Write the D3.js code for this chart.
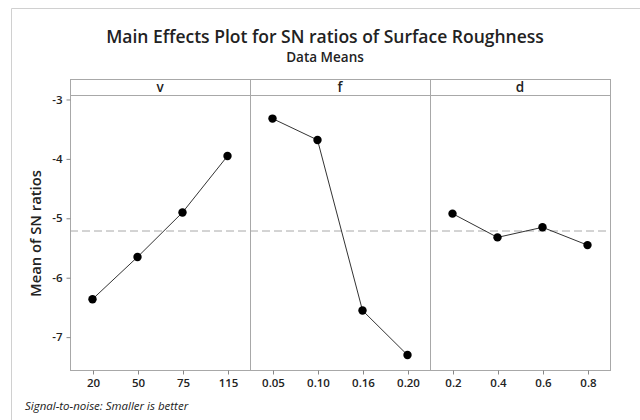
<!DOCTYPE html>
<html>
<head>
<meta charset="utf-8">
<script src="https://cdn.jsdelivr.net/npm/d3@7"></script>
<style>
  body { margin: 0; background: #fff; }
  svg text { font-family: "Open Sans", "Noto Sans", sans-serif; fill: #222; }
</style>
</head>
<body>
<div class="chart"></div>
<script>
// Data
const factors = ["v", "f", "d"];
const vLevels = ["20", "50", "75", "115"];
const vMeans = [-6.37, -5.66, -4.91, -3.96];
const fLevels = ["0.05", "0.10", "0.16", "0.20"];
const fMeans = [-3.33, -3.69, -6.56, -7.31];
const dLevels = ["0.2", "0.4", "0.6", "0.8"];
const dMeans = [-4.93, -5.33, -5.16, -5.46];
const yTicks = [-3, -4, -5, -6, -7];

const panels = [
    { name: factors[0], levels: vLevels, means: vMeans },
    { name: factors[1], levels: fLevels, means: fMeans },
    { name: factors[2], levels: dLevels, means: dMeans }
];

const width = 640;
const height = 420;
const plotLeft = 70, plotRight = 610;
const stripTop = 79, plotTop = 95, plotBottom = 370;

const svg = d3.select(".chart").append("svg")
    .attr("width", width)
    .attr("height", height);

// outer frame lines (top and left)
svg.append("line").attr("x1", 11.5).attr("x2", width).attr("y1", 8.5).attr("y2", 8.5)
    .attr("stroke", "#d0d0d0");
svg.append("line").attr("x1", 11.5).attr("x2", 11.5).attr("y1", 8.5).attr("y2", height)
    .attr("stroke", "#d0d0d0");

// titles
svg.append("text")
    .attr("x", 325).attr("y", 43)
    .attr("text-anchor", "middle")
    .attr("font-size", 17.5).attr("font-weight", 600)
    .text("Main Effects Plot for SN ratios of Surface Roughness");
svg.append("text")
    .attr("x", 325).attr("y", 62)
    .attr("text-anchor", "middle")
    .attr("font-size", 13.5).attr("font-weight", 600)
    .text("Data Means");

// scales
const yScale = d3.scaleLinear()
    .domain([-7.562, -2.933])
    .range([plotBottom, plotTop]);

const panelScale = d3.scaleBand()
    .domain(factors)
    .range([plotLeft, plotRight])
    .padding(0);

const grandMean = d3.mean(panels.map(p => d3.mean(p.means)));

// panels
panels.forEach(p => {
    const x0 = panelScale(p.name);
    const w = panelScale.bandwidth();
    const g = svg.append("g").attr("transform", `translate(${x0}, 0)`);

    const xScale = d3.scalePoint()
        .domain(p.levels)
        .range([0, w])
        .padding(0.5);

    // strip header
    g.append("rect")
        .attr("x", 0.5).attr("y", stripTop + 0.5)
        .attr("width", w).attr("height", plotTop - stripTop)
        .attr("fill", "#fff").attr("stroke", "#a8a8a8");
    g.append("text")
        .attr("x", w / 2).attr("y", plotTop - 3.5)
        .attr("text-anchor", "middle")
        .attr("font-size", 13.5).attr("font-weight", 600)
        .text(p.name);

    // panel border
    g.append("rect")
        .attr("x", 0.5).attr("y", plotTop + 0.5)
        .attr("width", w).attr("height", plotBottom - plotTop)
        .attr("fill", "none").attr("stroke", "#a8a8a8");

    // x axis
    const xAxis = d3.axisBottom(xScale).tickSize(4).tickPadding(4);
    const ax = g.append("g")
        .attr("transform", `translate(0.5, ${plotBottom + 0.5})`)
        .call(xAxis);
    ax.select(".domain").remove();
    ax.selectAll(".tick line").attr("stroke", "#888");
    ax.selectAll(".tick text")
        .attr("font-family", "\"Open Sans\", sans-serif")
        .attr("font-size", 11.5).attr("font-weight", 600)
        .attr("fill", "#333");

    // grand mean reference
    g.append("line")
        .attr("x1", 0).attr("x2", w)
        .attr("y1", yScale(grandMean)).attr("y2", yScale(grandMean))
        .attr("stroke", "#a8a8a8")
        .attr("stroke-dasharray", "8,4");

    // effect line
    const pts = p.levels.map((l, i) => ({ label: l, value: p.means[i] }));
    const line = d3.line()
        .x(d => xScale(d.label))
        .y(d => yScale(d.value));
    g.append("path")
        .datum(pts)
        .attr("d", line)
        .attr("fill", "none")
        .attr("stroke", "#333")
        .attr("stroke-width", 1);

    g.selectAll(".pt")
        .data(pts)
        .enter()
        .append("circle")
        .attr("class", "pt")
        .attr("cx", d => xScale(d.label))
        .attr("cy", d => yScale(d.value))
        .attr("r", 4.2)
        .attr("fill", "#000");
});

// y axis
const yAxis = d3.axisLeft(yScale)
    .tickValues(yTicks)
    .tickFormat(d => String(d))
    .tickSize(4).tickPadding(4);
const ay = svg.append("g")
    .attr("transform", `translate(${plotLeft + 0.5}, 0.5)`)
    .call(yAxis);
ay.select(".domain").remove();
ay.selectAll(".tick line").attr("stroke", "#888");
ay.selectAll(".tick text")
    .attr("font-family", "\"Open Sans\", sans-serif")
    .attr("font-size", 11.5).attr("font-weight", 600)
    .attr("fill", "#333");

// y axis title
svg.append("text")
    .attr("transform", `translate(41, ${(plotTop + plotBottom) / 2 + 1}) rotate(-90)`)
    .attr("text-anchor", "middle")
    .attr("font-size", 14.8).attr("font-weight", 600)
    .text("Mean of SN ratios");

// footnote
svg.append("text")
    .attr("x", 25).attr("y", 410)
    .attr("font-size", 11.5).attr("font-style", "italic")
    .text("Signal-to-noise: Smaller is better");
</script>
</body>
</html>
